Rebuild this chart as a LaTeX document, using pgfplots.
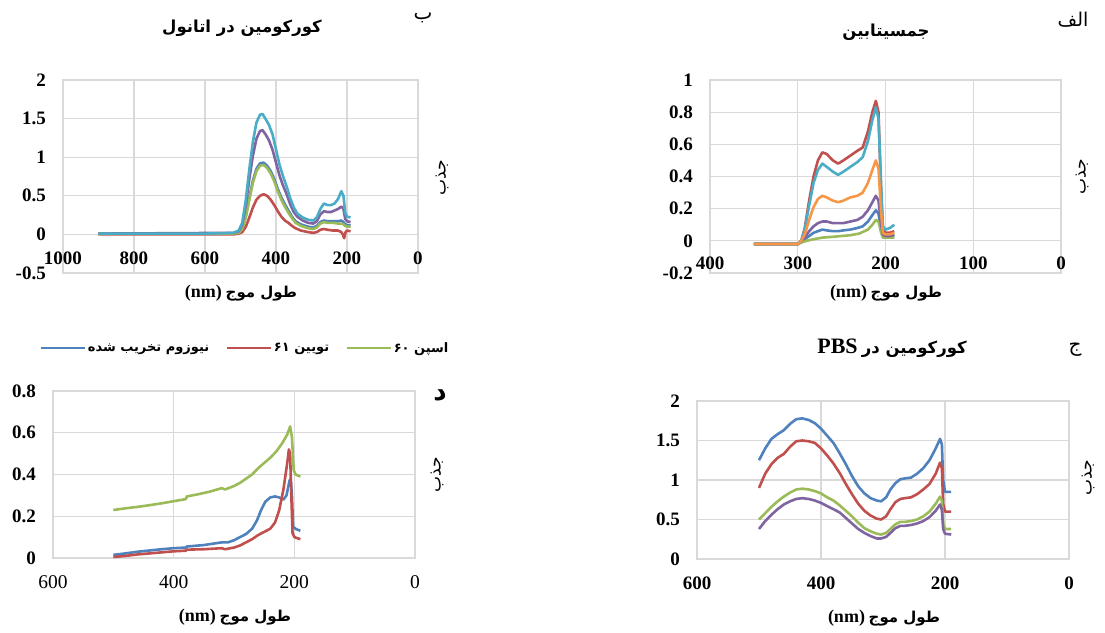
\documentclass[border=0pt]{standalone}
\usepackage{pgfplots}
\pgfplotsset{compat=1.18}
\usepackage{fontspec}
\setmainfont{Liberation Serif}
\newfontfamily\arabicfont[Script=Arabic]{DejaVu Sans}
\TeXXeTstate=1
\definecolor{cblue}{HTML}{4F81BD}
\definecolor{cred}{HTML}{C0504D}
\definecolor{cgreen}{HTML}{9BBB59}
\definecolor{cpurple}{HTML}{8064A2}
\definecolor{caqua}{HTML}{4BACC6}
\definecolor{corange}{HTML}{F79646}
\definecolor{gridc}{HTML}{D9D9D9}
\definecolor{zeroc}{HTML}{BFBFBF}
\pgfplotsset{
 panel/.style={
  scale only axis, anchor=south west, x dir=reverse,
  grid=major, major grid style={draw=gridc, line width=1.2pt},
  axis line style={draw=gridc, line width=1.2pt},
  major tick length=0pt, tick style={draw=none},
  /pgf/number format/assume math mode=true,
  /pgf/number format/1000 sep={},
  tick label style={font=\bfseries\fontsize{19}{19}\selectfont},
  y tick label style={anchor=east, inner sep=0pt, xshift=-17pt},
  x tick label style={anchor=center, inner sep=0pt},
  scaled ticks=false, clip=false,
  every axis plot/.append style={line width=2.6pt, line join=round, mark=none},
 },
}
\newcommand{\fa}[1]{{\arabicfont\beginR #1\endR}}
\begin{document}
\begin{tikzpicture}[x=1pt,y=1pt]
\path[use as bounding box] (0,0) rectangle (1105,632);

% ---------------- panel ب ----------------
\begin{axis}[panel, at={(63pt,359pt)}, width=355pt, height=193pt,
  xmin=0, xmax=1000, ymin=-0.5, ymax=2,
  xtick={0,200,400,600,800,1000}, ytick={-0.5,0,0.5,1,1.5,2},
  yticklabels={-0.5,0,0.5,1,1.5,2},
  x tick label style={yshift=15pt}]
\addplot[cblue] coordinates {(900,0.01)(520,0.01)(505,0.03)(495,0.08)(485,0.24)(475,0.48)(465,0.70)(455,0.85)(445,0.92)(435,0.93)(425,0.89)(415,0.82)(405,0.72)(395,0.59)(385,0.48)(375,0.39)(365,0.31)(355,0.23)(345,0.17)(330,0.13)(310,0.10)(295,0.09)(285,0.11)(275,0.16)(265,0.18)(255,0.17)(240,0.17)(225,0.17)(216,0.18)(210,0.16)(205,0.13)(200,0.12)(190,0.12)};
\addplot[cred] coordinates {(900,0.0)(520,0.0)(505,0.01)(495,0.03)(485,0.10)(475,0.22)(465,0.35)(455,0.45)(445,0.50)(435,0.52)(425,0.50)(415,0.45)(405,0.38)(395,0.30)(385,0.23)(375,0.18)(365,0.15)(355,0.11)(345,0.08)(330,0.05)(310,0.03)(295,0.02)(285,0.03)(275,0.06)(265,0.07)(255,0.06)(240,0.05)(225,0.05)(216,0.03)(212,0.0)(208,-0.05)(204,0.03)(200,0.05)(190,0.04)};
\addplot[cgreen] coordinates {(900,0.01)(520,0.01)(505,0.02)(495,0.07)(485,0.22)(475,0.45)(465,0.67)(455,0.82)(445,0.89)(435,0.90)(425,0.86)(415,0.79)(405,0.69)(395,0.56)(385,0.45)(375,0.36)(365,0.28)(355,0.21)(345,0.15)(330,0.11)(310,0.08)(295,0.07)(285,0.09)(275,0.14)(265,0.16)(255,0.15)(240,0.15)(225,0.14)(216,0.14)(210,0.13)(205,0.11)(200,0.10)(190,0.10)};
\addplot[cpurple] coordinates {(900,0.01)(520,0.02)(505,0.04)(495,0.13)(485,0.38)(475,0.72)(465,1.02)(455,1.24)(445,1.34)(438,1.35)(430,1.3)(420,1.22)(410,1.1)(400,0.93)(390,0.76)(380,0.63)(370,0.52)(360,0.39)(350,0.29)(340,0.23)(325,0.18)(310,0.15)(295,0.14)(285,0.17)(275,0.26)(265,0.30)(255,0.29)(245,0.29)(235,0.31)(225,0.33)(216,0.36)(210,0.33)(205,0.20)(200,0.17)(190,0.16)};
\addplot[caqua] coordinates {(900,0.01)(600,0.01)(520,0.02)(505,0.05)(495,0.15)(485,0.45)(475,0.85)(465,1.2)(455,1.45)(445,1.55)(438,1.56)(430,1.5)(420,1.42)(410,1.3)(400,1.1)(390,0.9)(380,0.75)(370,0.62)(360,0.47)(350,0.35)(340,0.27)(325,0.22)(310,0.19)(295,0.18)(285,0.22)(275,0.33)(265,0.40)(255,0.38)(245,0.38)(235,0.40)(225,0.46)(216,0.56)(210,0.50)(205,0.28)(200,0.23)(190,0.22)};
\end{axis}

% ---------------- panel الف ----------------
\begin{axis}[panel, at={(710pt,359pt)}, width=351pt, height=193pt,
  xmin=0, xmax=400, ymin=-0.2, ymax=1,
  xtick={0,100,200,300,400}, ytick={-0.2,0,0.2,0.4,0.6,0.8,1},
  yticklabels={-0.2,0,0.2,0.4,0.6,0.8,1},
  x tick label style={yshift=10pt}]
\addplot[cblue] coordinates {(350,-0.02)(300,-0.02)(296,-0.01)(292,0.01)(287,0.03)(282,0.05)(277,0.06)(272,0.07)(267,0.065)(260,0.06)(254,0.06)(248,0.065)(240,0.07)(232,0.08)(226,0.09)(220,0.12)(215,0.16)(211,0.19)(208,0.17)(205,0.07)(203,0.03)(200,0.03)(195,0.03)(190,0.03)};
\addplot[cred] coordinates {(350,-0.02)(300,-0.02)(296,0.0)(292,0.08)(287,0.25)(282,0.40)(277,0.50)(272,0.55)(267,0.54)(260,0.50)(254,0.48)(248,0.50)(240,0.53)(232,0.56)(226,0.58)(220,0.68)(215,0.80)(211,0.87)(208,0.80)(205,0.30)(203,0.07)(200,0.05)(195,0.05)(190,0.06)};
\addplot[cgreen] coordinates {(350,-0.02)(300,-0.02)(296,-0.01)(290,0.0)(282,0.01)(272,0.02)(260,0.025)(250,0.03)(240,0.035)(230,0.045)(220,0.07)(215,0.10)(211,0.13)(208,0.12)(205,0.05)(203,0.02)(200,0.02)(190,0.02)};
\addplot[cpurple] coordinates {(350,-0.02)(300,-0.02)(296,0.0)(292,0.02)(287,0.06)(282,0.09)(277,0.11)(272,0.12)(267,0.12)(260,0.11)(254,0.11)(248,0.11)(240,0.12)(232,0.13)(226,0.15)(220,0.19)(215,0.24)(211,0.28)(208,0.25)(205,0.10)(203,0.04)(200,0.03)(195,0.03)(190,0.04)};
\addplot[caqua] coordinates {(350,-0.02)(300,-0.02)(296,0.0)(292,0.07)(287,0.22)(282,0.36)(277,0.44)(272,0.48)(267,0.46)(260,0.43)(254,0.41)(248,0.43)(240,0.46)(232,0.49)(226,0.52)(220,0.62)(215,0.75)(211,0.83)(208,0.76)(205,0.35)(203,0.09)(200,0.07)(195,0.08)(190,0.10)};
\addplot[corange] coordinates {(350,-0.02)(300,-0.02)(296,0.0)(292,0.04)(287,0.13)(282,0.21)(277,0.26)(272,0.28)(267,0.27)(260,0.25)(254,0.24)(248,0.25)(240,0.27)(232,0.28)(226,0.30)(220,0.36)(215,0.44)(211,0.50)(208,0.45)(205,0.18)(203,0.05)(200,0.04)(195,0.04)(190,0.05)};
\end{axis}

% ---------------- panel د ----------------
\begin{axis}[panel, at={(53pt,74pt)}, width=362pt, height=167pt,
  xmin=0, xmax=600, ymin=0, ymax=0.8,
  xtick={0,200,400,600}, ytick={0,0.2,0.4,0.6,0.8},
  yticklabels={0,0.2,0.4,0.6,0.8},
  x tick label style={yshift=-24pt, font=\mdseries\fontsize{19.5}{19.5}\selectfont},
  legend columns=3,
  legend style={draw=none, fill=none, at={(0.53,1.257)}, anchor=center,
    font=\bfseries\fontsize{13}{13}\selectfont,
    /tikz/every even column/.append style={column sep=14pt}},
  legend image code/.code={\draw[#1, line width=2.6pt] (0pt,0pt) -- (44pt,0pt);}]
\addplot[cblue] coordinates {(500,0.015)(480,0.022)(460,0.03)(440,0.036)(420,0.042)(400,0.047)(380,0.05)(378,0.055)(350,0.062)(320,0.075)(310,0.075)(300,0.085)(290,0.10)(280,0.115)(270,0.14)(262,0.18)(255,0.23)(248,0.27)(240,0.29)(232,0.295)(225,0.29)(218,0.28)(213,0.30)(208,0.37)(206,0.38)(204,0.30)(202,0.15)(198,0.14)(190,0.13)};
\addlegendentry{\fa{نیوزوم تخریب شده}}
\addplot[cred] coordinates {(500,0.005)(480,0.01)(460,0.017)(440,0.022)(420,0.027)(400,0.032)(380,0.035)(378,0.04)(350,0.042)(320,0.047)(315,0.042)(300,0.05)(290,0.06)(280,0.075)(270,0.09)(260,0.11)(250,0.125)(240,0.14)(232,0.17)(225,0.23)(218,0.33)(212,0.45)(209,0.52)(207,0.50)(205,0.30)(203,0.12)(200,0.10)(190,0.09)};
\addlegendentry{\fa{تویین ۶۱}}
\addplot[cgreen] coordinates {(500,0.23)(480,0.238)(460,0.245)(440,0.253)(420,0.262)(400,0.272)(380,0.282)(378,0.295)(360,0.305)(340,0.318)(320,0.335)(315,0.328)(300,0.345)(290,0.36)(280,0.38)(270,0.40)(260,0.43)(250,0.455)(240,0.48)(230,0.51)(220,0.55)(212,0.59)(207,0.63)(204,0.58)(201,0.42)(198,0.40)(190,0.39)};
\addlegendentry{\fa{اسپن ۶۰}}
\end{axis}

% ---------------- panel ج ----------------
\begin{axis}[panel, at={(697pt,73pt)}, width=372pt, height=158pt,
  xmin=0, xmax=600, ymin=0, ymax=2,
  xtick={0,200,400,600}, ytick={0,0.5,1,1.5,2},
  yticklabels={0,0.5,1,1.5,2},
  x tick label style={yshift=-24pt}]
\addplot[cblue] coordinates {(500,1.25)(490,1.40)(480,1.52)(470,1.58)(460,1.63)(450,1.71)(440,1.77)(430,1.78)(420,1.76)(410,1.72)(400,1.65)(390,1.56)(380,1.47)(370,1.34)(360,1.20)(350,1.05)(340,0.92)(330,0.83)(320,0.77)(310,0.74)(303,0.73)(295,0.78)(288,0.88)(280,0.96)(272,1.01)(265,1.02)(255,1.03)(245,1.08)(235,1.15)(225,1.25)(215,1.40)(208,1.52)(205,1.45)(203,1.0)(200,0.85)(190,0.85)};
\addplot[cred] coordinates {(500,0.90)(490,1.08)(480,1.20)(470,1.28)(460,1.33)(450,1.42)(440,1.49)(430,1.50)(420,1.49)(410,1.47)(400,1.40)(390,1.31)(380,1.21)(370,1.09)(360,0.95)(350,0.82)(340,0.70)(330,0.61)(320,0.55)(310,0.51)(303,0.50)(295,0.54)(288,0.63)(280,0.72)(272,0.76)(265,0.77)(255,0.78)(245,0.82)(235,0.88)(225,0.95)(215,1.08)(208,1.22)(205,1.15)(203,0.7)(200,0.6)(190,0.6)};
\addplot[cgreen] coordinates {(500,0.50)(490,0.58)(480,0.66)(470,0.73)(460,0.79)(450,0.84)(440,0.88)(430,0.89)(420,0.88)(410,0.86)(400,0.83)(390,0.78)(380,0.74)(370,0.68)(360,0.61)(350,0.54)(340,0.46)(330,0.39)(320,0.35)(310,0.32)(303,0.31)(295,0.33)(288,0.38)(280,0.44)(272,0.47)(265,0.47)(255,0.48)(245,0.50)(235,0.54)(225,0.60)(215,0.70)(208,0.79)(205,0.74)(203,0.45)(200,0.38)(190,0.38)};
\addplot[cpurple] coordinates {(500,0.38)(490,0.48)(480,0.56)(470,0.63)(460,0.69)(450,0.73)(440,0.76)(430,0.77)(420,0.76)(410,0.74)(400,0.71)(390,0.67)(380,0.63)(370,0.59)(360,0.52)(350,0.45)(340,0.38)(330,0.33)(320,0.29)(310,0.26)(303,0.26)(295,0.28)(288,0.33)(280,0.39)(272,0.42)(265,0.42)(255,0.43)(245,0.45)(235,0.48)(225,0.53)(215,0.61)(208,0.69)(205,0.62)(203,0.38)(200,0.32)(190,0.31)};
\end{axis}

% ---------------- texts ----------------
\begin{scope}[every node/.style={inner sep=0pt}]
\node[font=\bfseries\fontsize{16.5}{16.5}\selectfont] at (242,604) {\fa{کورکومین در اتانول}};
\node[font=\fontsize{20}{20}\selectfont] at (423,614) {\fa{ب}};
\node[font=\bfseries\fontsize{16.5}{16.5}\selectfont] at (886,600) {\fa{جمسیتابین}};
\node[font=\fontsize{19}{19}\selectfont] at (1073,612) {\fa{الف}};
\node[font=\bfseries\fontsize{16.5}{16.5}\selectfont] at (892,284) {{\rmfamily\bfseries\fontsize{22}{22}\selectfont PBS} \fa{کورکومین در}};
\node[font=\fontsize{20}{20}\selectfont] at (1075,282) {\fa{ج}};
\node[font=\bfseries\fontsize{26}{26}\selectfont] at (440,237) {\fa{د}};
\foreach \p in {(442,454),(1082,455),(437,157),(1088,154)}
  \node[rotate=90, font=\fontsize{17}{17}\selectfont] at \p {\fa{جذب}};
\foreach \p in {(241,339),(886,339),(235,15),(884,14)}
  \node[font=\bfseries\fontsize{15}{15}\selectfont] at \p {{\rmfamily\bfseries\fontsize{18}{18}\selectfont (nm)} \fa{طول موج}};
\end{scope}
\end{tikzpicture}
\end{document}
